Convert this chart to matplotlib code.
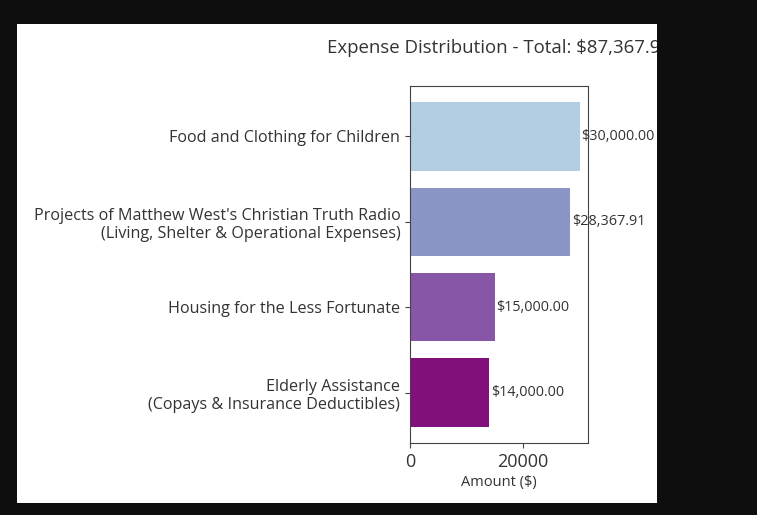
import matplotlib.pyplot as plt
from matplotlib.patches import Rectangle
from matplotlib.transforms import Bbox, TransformedBbox

# Expense data
categories = [
    "Food and Clothing for Children",
    "Projects of Matthew West's Christian Truth Radio\n(Living, Shelter & Operational Expenses)",
    "Housing for the Less Fortunate",
    "Elderly Assistance\n(Copays & Insurance Deductibles)",
]
amounts = [30000.00, 28367.91, 15000.00, 14000.00]
colors = ["#b3cde3", "#8c96c6", "#8856a7", "#810f7c"]
x_ticks = [0, 20000]

plt.rcParams['font.family'] = ['Open Sans', 'DejaVu Sans']
text_color = '#333333'

fig = plt.figure(figsize=(7.57, 5.15), dpi=100, facecolor='#0e0e0e')
W, H = 757, 515

# white card where the chart lives (the original figure, cropped on the right)
card = (17 / W, 12 / H, 640 / W, 479 / H)
fig.patches.append(Rectangle(card[:2], card[2], card[3], transform=fig.transFigure,
                             facecolor='white', edgecolor='none', zorder=-5))
clip = TransformedBbox(Bbox.from_bounds(*card), fig.transFigure)

ax = fig.add_axes([410 / W, 72 / H, 178 / W, 357 / H])
ax.barh(categories, amounts, color=colors, height=0.8)
ax.invert_yaxis()
ax.set_xlim(0, max(amounts) * 1.05)
ax.set_xticks(x_ticks)

# value labels
for i, v in enumerate(amounts):
    t = ax.text(v + 300, i, f'${v:,.2f}', va='center', ha='left', fontsize=10.4, color=text_color)
    t.set_clip_box(clip)
    t.set_clip_on(True)

title = ax.set_title(f'Expense Distribution - Total: ${sum(amounts):,.2f}',
                     fontsize=13.4, color=text_color, pad=24)
title.set_clip_box(clip)
title.set_clip_on(True)

ax.set_xlabel('Amount ($)', fontsize=10.5, color=text_color, labelpad=3)
ax.tick_params(axis='y', labelsize=11.6, colors='#444444', labelcolor=text_color)
ax.tick_params(axis='x', labelsize=13, colors='#444444', labelcolor=text_color)
for s in ax.spines.values():
    s.set_color('#444444')

fig.savefig('out.png', dpi=100, facecolor=fig.get_facecolor())
